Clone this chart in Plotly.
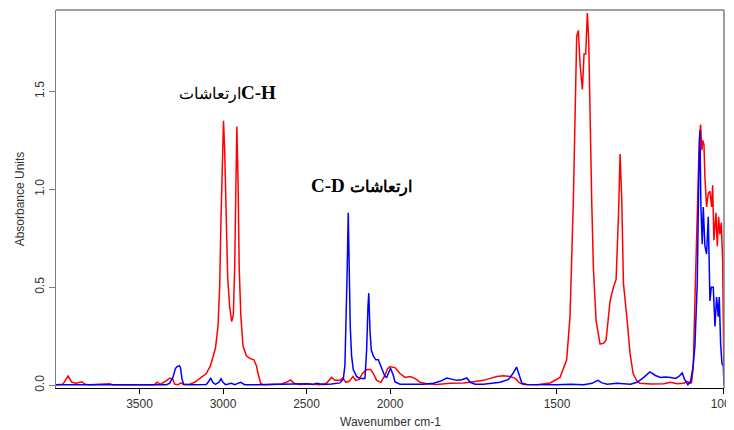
import plotly.graph_objects as go

# ---- data (wavenumber cm-1, absorbance) ----
red_wn = [4000, 3960, 3955, 3928, 3905, 3880, 3845, 3825, 3800, 3700, 3680, 3660, 3500, 3450, 3410,
          3395, 3375, 3345, 3318, 3300, 3290, 3270, 3250, 3235, 3200, 3170, 3140, 3100, 3075, 3060,
          3045, 3030, 3020, 3012, 3003, 2997, 2990, 2982, 2972, 2960, 2948, 2938, 2930, 2923, 2917,
          2910, 2903, 2893, 2880, 2860, 2840, 2815, 2800, 2790, 2775, 2760, 2700, 2650, 2620, 2595,
          2575, 2540, 2480, 2420, 2380, 2350, 2330, 2300, 2282, 2265, 2245, 2222, 2205, 2185, 2165,
          2140, 2115, 2100, 2080, 2055, 2030, 2015, 2000, 1985, 1970, 1955, 1940, 1925, 1910, 1890,
          1860, 1820, 1780, 1750, 1720, 1700, 1680, 1660, 1640, 1625, 1612, 1600, 1560, 1520, 1505,
          1491, 1471, 1461, 1451, 1446, 1441, 1436, 1431, 1424, 1419, 1414, 1409, 1405, 1401, 1396,
          1391, 1383, 1371, 1360, 1353, 1341, 1331, 1323, 1316, 1311, 1306, 1301, 1291, 1281, 1272,
          1262, 1252, 1220, 1180, 1160, 1140, 1120, 1110, 1100, 1097, 1092, 1087, 1080, 1074, 1070,
          1066, 1064, 1060, 1057, 1052, 1047, 1042, 1037, 1034, 1030, 1024, 1020, 1016, 1012, 1008,
          1004, 1002, 1000]
red_ab = [0.003, 0.005, 0.01, 0.047, 0.015, 0.01, 0.018, 0.005, 0.003, 0.004, 0.008, 0.003, 0.002, 0.003, 0.002,
          0.016, 0.005, 0.02, 0.037, 0.03, 0.006, 0.003, 0.012, 0.003, 0.005, 0.015, 0.035, 0.06, 0.1, 0.14,
          0.19, 0.3, 0.5, 0.85, 1.25, 1.35, 1.2, 0.85, 0.55, 0.4, 0.325, 0.36, 0.6, 1.0, 1.32,
          1.05, 0.6, 0.35, 0.2, 0.15, 0.137, 0.13, 0.1, 0.06, 0.01, 0.003, 0.004, 0.006, 0.015, 0.027,
          0.01, 0.004, 0.006, 0.003, 0.01, 0.04, 0.025, 0.025, 0.038, 0.015, 0.02, 0.045, 0.025, 0.03, 0.06,
          0.08, 0.08, 0.06, 0.025, 0.015, 0.05, 0.085, 0.095, 0.09, 0.06, 0.04, 0.045, 0.035, 0.015, 0.008,
          0.004, 0.01, 0.012, 0.018, 0.025, 0.035, 0.045, 0.048, 0.045, 0.035, 0.012, 0.004, 0.003, 0.012, 0.025,
          0.04, 0.13, 0.35, 0.94, 1.45, 1.78, 1.81, 1.64, 1.51, 1.69, 1.69, 1.9, 1.76, 1.32, 0.94,
          0.6, 0.33, 0.21, 0.215, 0.23, 0.43, 0.5, 0.54, 0.86, 1.18, 0.94, 0.52, 0.35, 0.16, 0.06,
          0.025, 0.01, 0.006, 0.008, 0.015, 0.008, 0.01, 0.02, 0.01, 0.015, 0.09, 0.43, 0.94, 1.25, 1.33,
          1.2, 1.25, 1.23, 1.06, 0.91, 0.98, 0.99, 0.91, 1.02, 0.74, 0.88, 0.71, 0.86, 0.77, 0.83,
          0.64, 0.26, 0.01]

blue_wn = [4000, 3800, 3600, 3400, 3340, 3320, 3300, 3285, 3275, 3262, 3255, 3245, 3235, 3200, 3150,
           3100, 3085, 3073, 3062, 3045, 3025, 3012, 3000, 2985, 2950, 2930, 2895, 2870, 2800, 2700,
           2600, 2500, 2460, 2440, 2400, 2350, 2300, 2280, 2270, 2262, 2256, 2250, 2244, 2238, 2230,
           2220, 2200, 2180, 2150, 2140, 2132, 2127, 2120, 2112, 2100, 2085, 2070, 2055, 2040, 2030,
           2020, 2010, 1998, 1990, 1985, 1970, 1950, 1900, 1870, 1850, 1830, 1815, 1800, 1785, 1770,
           1760, 1745, 1720, 1695, 1670, 1645, 1632, 1621, 1612, 1605, 1590, 1550, 1500, 1460, 1420,
           1395, 1378, 1365, 1350, 1320, 1300, 1280, 1260, 1240, 1222, 1205, 1190, 1175, 1160, 1145,
           1135, 1125, 1118, 1108, 1100, 1093, 1087, 1080, 1075, 1072, 1069, 1065, 1062, 1057, 1052,
           1047, 1042, 1038, 1032, 1027, 1022, 1017, 1014, 1010, 1006, 1002, 1000]
blue_ab = [0.002, 0.002, 0.002, 0.002, 0.002, 0.01, 0.04, 0.085, 0.095, 0.1, 0.09, 0.03, 0.005, 0.002, 0.002,
           0.004, 0.02, 0.037, 0.015, 0.005, 0.015, 0.033, 0.015, 0.003, 0.01, 0.003, 0.015, 0.003, 0.002, 0.004,
           0.003, 0.008, 0.004, 0.01, 0.004, 0.006, 0.012, 0.03, 0.1, 0.35, 0.6, 0.88, 0.6, 0.3, 0.15,
           0.08, 0.045, 0.035, 0.035, 0.18, 0.4, 0.47, 0.28, 0.18, 0.15, 0.13, 0.13, 0.1, 0.07, 0.045,
           0.04, 0.06, 0.085, 0.05, 0.017, 0.005, 0.004, 0.005, 0.01, 0.02, 0.037, 0.03, 0.025, 0.028, 0.037,
           0.015, 0.005, 0.005, 0.01, 0.015, 0.03, 0.06, 0.093, 0.05, 0.01, 0.004, 0.003, 0.003, 0.005, 0.003,
           0.01, 0.025, 0.012, 0.005, 0.01, 0.008, 0.005, 0.015, 0.04, 0.068, 0.05, 0.04, 0.042, 0.04, 0.035,
           0.045, 0.063, 0.03, 0.003, 0.02, 0.09, 0.2, 0.52, 1.11, 1.3, 0.91, 0.72, 0.91, 0.71, 0.67,
           0.86, 0.43, 0.5, 0.5, 0.3, 0.45, 0.35, 0.45, 0.21, 0.11, 0.1, 0.0]

x_ticks_high = [3500, 3000, 2500]
x_ticks_low = [2000, 1500, 1000]
y_ticks = [0, 0.5, 1.0, 1.5]
y_ticklabels = ["0.0", "0.5", "1.0", "1.5"]

RED = "#ff0000"
BLUE = "#0000ff"
AXIS_FONT = dict(family="Liberation Sans, Arial, sans-serif", size=12, color="#333333")
ANN_FONT = dict(family="Liberation Serif, Times New Roman, serif", size=19, color="#000000")
FRAME = "#7f7f7f"

fig = go.Figure()
for xa in ["x", "x2"]:
    fig.add_trace(go.Scatter(x=red_wn, y=red_ab, mode="lines", xaxis=xa, yaxis="y",
                             line=dict(color=RED, width=1.5), showlegend=False, hoverinfo="skip"))
for xa in ["x", "x2"]:
    fig.add_trace(go.Scatter(x=blue_wn, y=blue_ab, mode="lines", xaxis=xa, yaxis="y",
                             line=dict(color=BLUE, width=1.5), showlegend=False, hoverinfo="skip"))

common_x = dict(showgrid=False, zeroline=False, ticks="outside", ticklen=5, tickcolor="#000000",
                showline=True, linecolor="#000000", linewidth=1, tickfont=AXIS_FONT, anchor="y",
                automargin=False, ticklabeloverflow="allow")
# page body has an 8px margin, so the figure is sized/offset to land on the reference pixels
fig.update_layout(
    width=726, height=422,
    margin=dict(l=48, r=10, t=2, b=42, autoexpand=False),
    paper_bgcolor="white", plot_bgcolor="white",
    xaxis=dict(domain=[0, 0.5], range=[4000, 2000], tickvals=x_ticks_high, **common_x),
    xaxis2=dict(domain=[0.5, 1], range=[2000, 999.9], tickvals=x_ticks_low, **common_x),
    yaxis=dict(range=[-0.014, 1.915], tickvals=y_ticks, ticktext=y_ticklabels, tickangle=-90,
               showgrid=False, zeroline=False, ticks="outside", ticklen=6, tickcolor=FRAME,
               showline=True, linecolor=FRAME, linewidth=1, tickfont=AXIS_FONT, automargin=False,
               title=dict(text="Absorbance Units", font=AXIS_FONT, standoff=6)),
    shapes=[
        dict(type="line", xref="paper", yref="paper", x0=0, x1=1, y0=1, y1=1, line=dict(color=FRAME, width=1.5)),
        dict(type="line", xref="paper", yref="paper", x0=1, x1=1, y0=0, y1=1, line=dict(color=FRAME, width=1.5)),
    ],
    annotations=[
        dict(text="Wavenumber cm-1", xref="paper", yref="paper", x=0.5, y=0, yshift=-34,
             showarrow=False, font=AXIS_FONT, yanchor="middle"),
        dict(text="<span style='font-size:16px'>ارتعاشات</span><b>C-H</b>", xref="x", yref="y",
             x=2975, y=1.495, showarrow=False, font=ANN_FONT),
        dict(text="<b>C-D <span style='font-size:16px'>ارتعاشات</span></b>", xref="x", yref="y",
             x=2168, y=1.015, showarrow=False, font=ANN_FONT),
    ],
)

fig.write_html("out.html")
